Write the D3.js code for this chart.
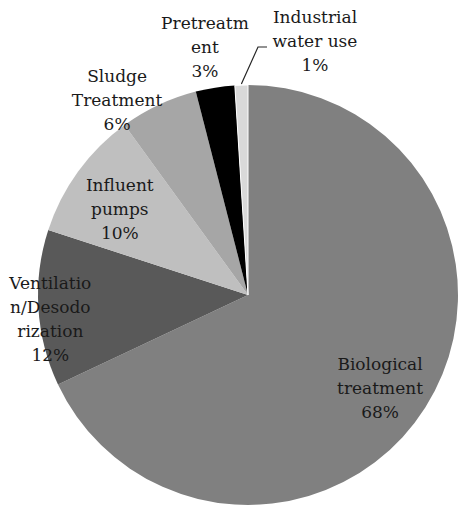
<!DOCTYPE html>
<html>
<head>
<meta charset="utf-8">
<script src="https://cdn.jsdelivr.net/npm/d3@7"></script>
<style>
  body { margin: 0; background: #fff; }
  svg text { font-family: "DejaVu Serif", "Liberation Serif", serif; font-size: 17px; fill: #1a1a1a; }
</style>
</head>
<body>
<div id="pieWrapper"></div>
<script>
// data
var categories = ["Biological treatment", "Ventilation/Desodorization", "Influent pumps",
                  "Sludge Treatment", "Pretreatment", "Industrial water use"];
var shares = [68, 12, 10, 6, 3, 1];
var sliceColors = ["#808080", "#595959", "#bfbfbf", "#a6a6a6", "#000000", "#d9d9d9"];
var labelLines = [
    ["Biological", "treatment", "68%"],
    ["Ventilatio", "n/Desodo", "rization", "12%"],
    ["Influent", "pumps", "10%"],
    ["Sludge", "Treatment", "6%"],
    ["Pretreatm", "ent", "3%"],
    ["Industrial", "water use", "1%"]
];

var width = 458, height = 506;
var cx = 248, cy = 295, radius = 210;
var lineH = 24;
// label placement: angle (deg, clockwise from top) and distance from centre
var labelPos = [
    {a: 124.9, r: 161},
    {a: 263.4, r: 199},
    {a: 304.2, r: 155},
    {a: 326.3, r: 236},
    {a: 350.2, r: 253},
    {a: 14.7, r: 264}
];

var rows = categories.map(function(c, i) {
    return {name: c, value: shares[i], color: sliceColors[i], lines: labelLines[i], pos: labelPos[i]};
});

var svg = d3.select("#pieWrapper").append("svg")
    .attr("width", width)
    .attr("height", height);

var g = svg.append("g")
    .attr("transform", "translate(" + cx + "," + cy + ")");

var pie = d3.pie()
    .value(function(d) { return d.value; })
    .sort(null);

var arc = d3.arc()
    .innerRadius(0)
    .outerRadius(radius);

var arcs = pie(rows);

g.selectAll("path.slice")
    .data(arcs)
    .enter()
    .append("path")
    .attr("class", "slice")
    .attr("d", arc)
    .attr("fill", function(d) { return d.data.color; })
    .attr("stroke", function(d, i) { return i == arcs.length - 1 ? "#fff" : "none"; })
    .attr("stroke-width", 1);

function polar(aDeg, r) {
    var a = aDeg * Math.PI / 180;
    return [Math.sin(a) * r, -Math.cos(a) * r];
}

// leader line for the tiny slice
var last = arcs[arcs.length - 1];
var mid = (last.startAngle + last.endAngle) / 2 * 180 / Math.PI;
var p0 = polar(mid, radius + 1);
var lead = [p0, [10, -248], [19, -248]];
g.append("path")
    .attr("d", d3.line()(lead))
    .attr("fill", "none")
    .attr("stroke", "#262626")
    .attr("stroke-width", 1.2);

g.selectAll("text.lbl")
    .data(arcs)
    .enter()
    .append("text")
    .attr("class", "lbl")
    .attr("text-anchor", "middle")
    .each(function(d) {
        var p = polar(d.data.pos.a, d.data.pos.r);
        var n = d.data.lines.length;
        var t = d3.select(this);
        d.data.lines.forEach(function(line, k) {
            t.append("tspan")
                .attr("x", p[0])
                .attr("y", p[1] + (k - (n - 1) / 2) * lineH + 7)
                .text(line);
        });
    });
</script>
</body>
</html>
